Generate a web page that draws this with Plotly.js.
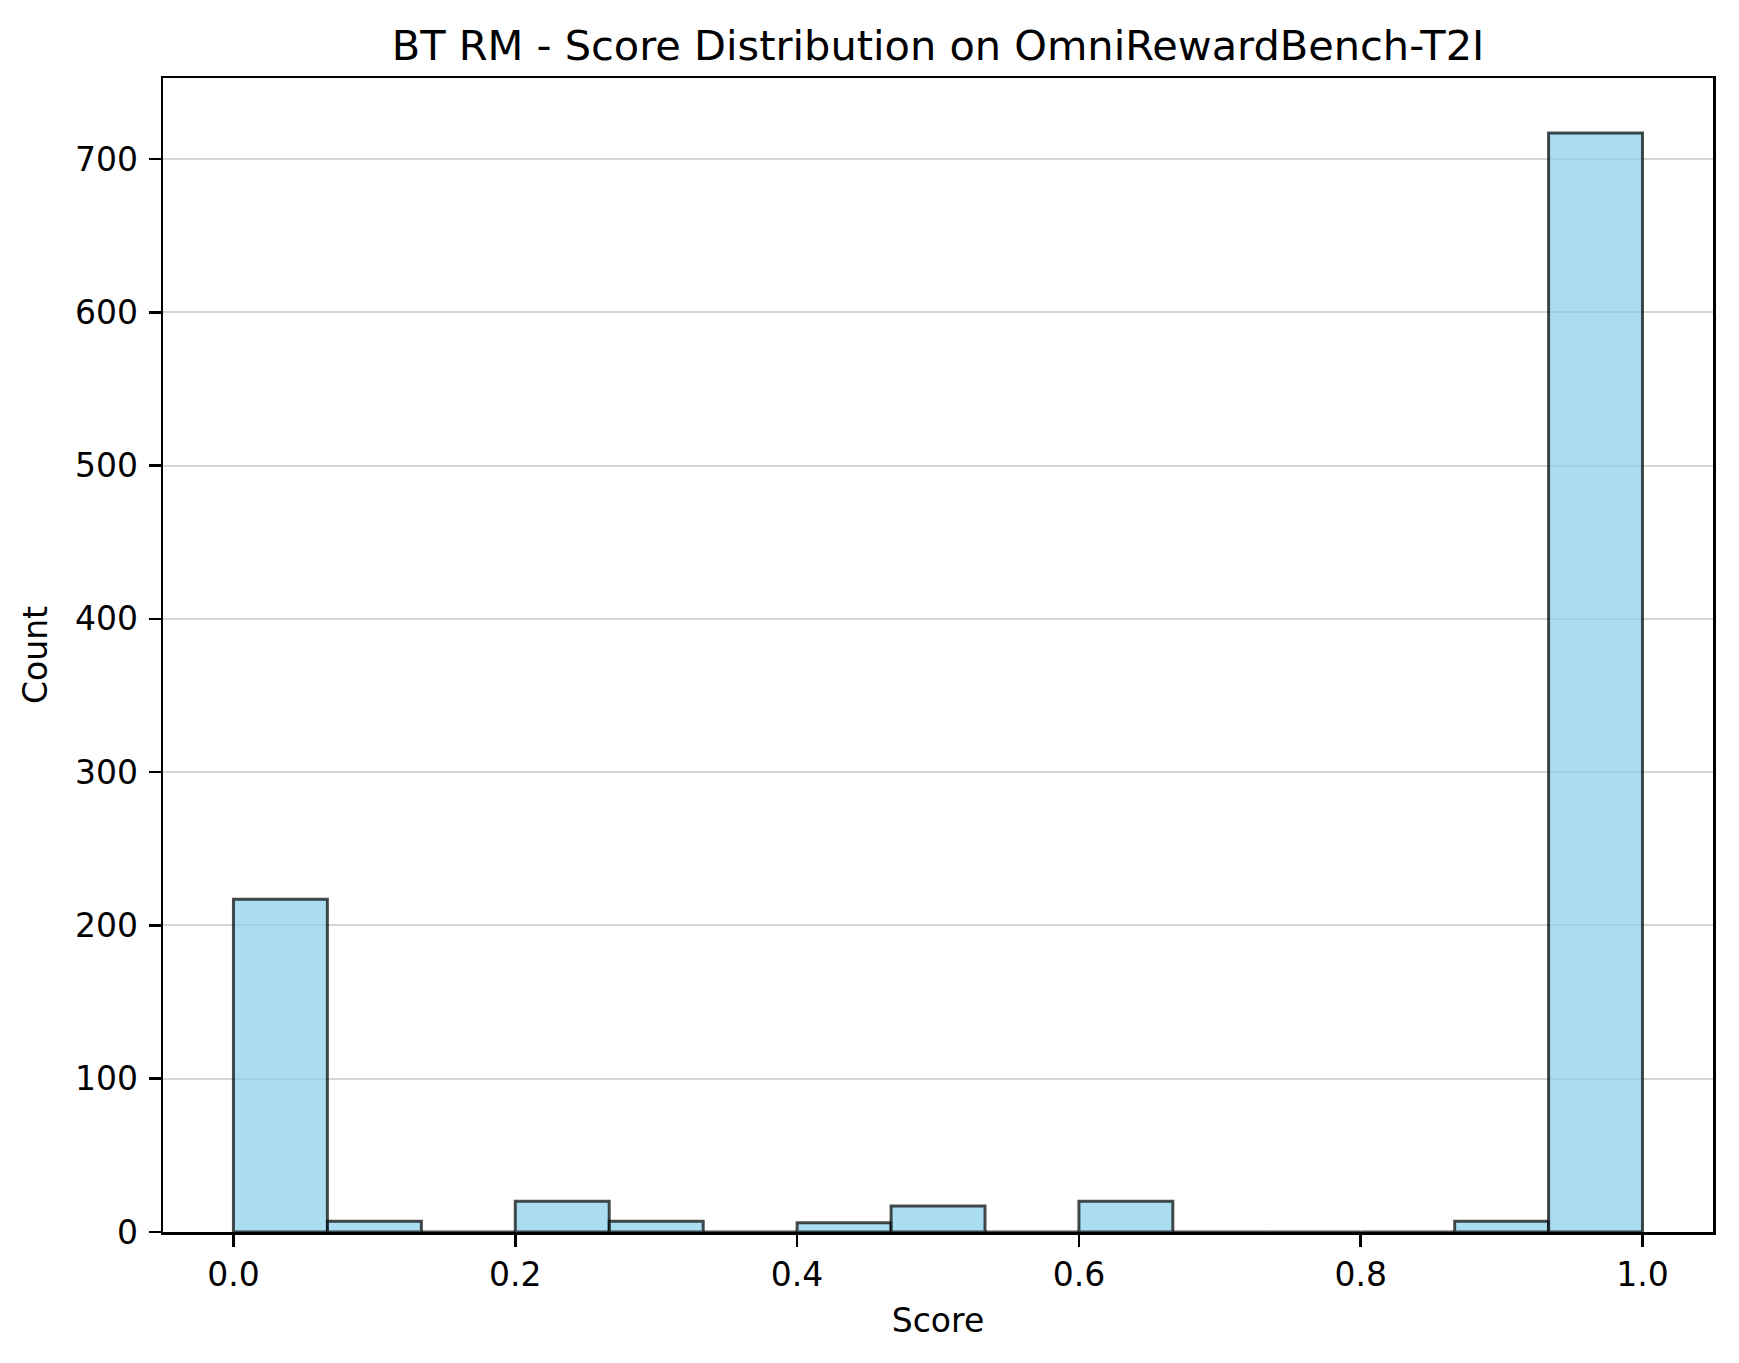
<!DOCTYPE html>
<html>
<head>
<meta charset="utf-8">
<script src="https://cdn.plot.ly/plotly-3.0.1.min.js"></script>
<style>html,body{margin:0;padding:0;background:#fff;}#chart{width:1739px;height:1363px;}</style>
</head>
<body>
<div id="chart"></div>
<script>
// Histogram of scores: 15 equal bins over [0, 1]
const binLeftEdges = [0.0, 0.0667, 0.1333, 0.2, 0.2667, 0.3333, 0.4, 0.4667, 0.5333, 0.6, 0.6667, 0.7333, 0.8, 0.8667, 0.9333];
const binWidth = 1 / 15;
const counts = [217, 7, 0, 20, 7, 0, 6, 17, 0, 20, 0, 0, 0, 7, 717];
const xTickVals = [0.0, 0.2, 0.4, 0.6, 0.8, 1.0];
const xTickText = ["0.0", "0.2", "0.4", "0.6", "0.8", "1.0"];
const yTickVals = [0, 100, 200, 300, 400, 500, 600, 700];
const titleText = "BT RM - Score Distribution on OmniRewardBench-T2I";
const xLabel = "Score";
const yLabel = "Count";

const centers = binLeftEdges.map(e => e + binWidth / 2);
const ymax = Math.max(...counts) * 1.05;

const font = "DejaVu Sans";
const trace = {
  type: "bar",
  x: centers,
  y: counts,
  width: counts.map(() => binWidth),
  marker: {
    color: "rgba(135,206,235,0.7)",
    line: {color: "rgba(0,0,0,0.7)", width: 3}
  },
  hoverinfo: "x+y"
};

const layout = {
  width: 1739,
  height: 1363,
  margin: {l: 163, r: 26, t: 78, b: 131, pad: 0},
  paper_bgcolor: "#ffffff",
  plot_bgcolor: "#ffffff",
  showlegend: false,
  bargap: 0,
  font: {family: font, color: "#000", size: 33},
  title: {
    text: titleText,
    font: {family: font, size: 41.5, color: "#000"},
    x: (163 + (1739 - 163 - 26) / 2) / 1739,
    xanchor: "center",
    xref: "container",
    y: 1 - 45 / 1363,
    yanchor: "middle",
    yref: "container"
  },
  xaxis: {
    range: [-0.05, 1.05],
    tickvals: xTickVals,
    ticktext: xTickText,
    ticks: "outside",
    ticklen: 12,
    tickwidth: 2.5,
    tickcolor: "#000",
    showline: true,
    linecolor: "#000",
    linewidth: 2.5,
    mirror: true,
    showgrid: false,
    zeroline: false,
    automargin: false,
    tickfont: {family: font, size: 33, color: "#000"},
    title: {text: xLabel, font: {family: font, size: 33, color: "#000"}, standoff: 16}
  },
  yaxis: {
    range: [0, ymax],
    tickvals: yTickVals,
    ticks: "outside",
    ticklen: 12,
    tickwidth: 2.5,
    tickcolor: "#000",
    showline: true,
    linecolor: "#000",
    linewidth: 2.5,
    mirror: true,
    showgrid: true,
    gridcolor: "#d6d6d6",
    gridwidth: 2,
    zeroline: false,
    automargin: false,
    ticklabelstandoff: 4,
    tickfont: {family: font, size: 33, color: "#000"},
    title: {text: yLabel, font: {family: font, size: 33, color: "#000"}, standoff: 18}
  }
};

Plotly.newPlot("chart", [trace], layout, {displayModeBar: false, staticPlot: true});
</script>
</body>
</html>
